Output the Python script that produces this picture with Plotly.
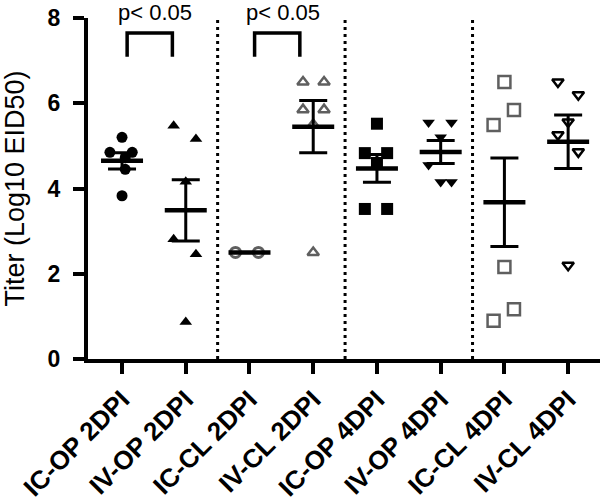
import numpy as np
import plotly.graph_objects as go

categories = ["IC-OP 2DPI", "IV-OP 2DPI", "IC-CL 2DPI", "IV-CL 2DPI",
              "IC-OP 4DPI", "IV-OP 4DPI", "IC-CL 4DPI", "IV-CL 4DPI"]

ic_op_2dpi = [5.2, 4.85, 4.85, 4.72, 4.45, 3.83]
iv_op_2dpi = [5.47, 5.16, 4.16, 2.81, 2.46, 0.87]
ic_cl_2dpi = [2.5, 2.5]
iv_cl_2dpi = [6.5, 6.5, 5.85, 5.85, 5.5, 2.5]
ic_op_4dpi = [5.52, 4.83, 4.83, 4.6, 3.52, 3.52]
iv_op_4dpi = [5.55, 5.55, 5.2, 4.55, 4.15, 4.15]
ic_cl_4dpi = [6.5, 5.84, 5.49, 2.16, 1.17, 0.9]
iv_cl_4dpi = [6.5, 6.2, 5.56, 5.26, 4.86, 2.2]

# horizontal scatter offsets (category units) for each point
jit_ic_op_2dpi = [0.0, -0.19, 0.16, 0.05, 0.05, 0.0]
jit_iv_op_2dpi = [-0.19, 0.16, 0.0, -0.19, 0.16, 0.0]
jit_ic_cl_2dpi = [-0.22, 0.14]
jit_iv_cl_2dpi = [-0.16, 0.17, -0.16, 0.17, 0.0, 0.0]
jit_ic_op_4dpi = [0.0, -0.19, 0.16, 0.0, -0.19, 0.16]
jit_iv_op_4dpi = [-0.19, 0.17, 0.0, -0.19, 0.0, 0.17]
jit_ic_cl_4dpi = [0.0, 0.15, -0.17, 0.0, 0.15, -0.17]
jit_iv_cl_4dpi = [-0.16, 0.16, 0.0, -0.16, 0.16, 0.0]

p_labels = ["p< 0.05", "p< 0.05"]
p_pairs = [(0, 1), (2, 3)]

groups = [ic_op_2dpi, iv_op_2dpi, ic_cl_2dpi, iv_cl_2dpi,
          ic_op_4dpi, iv_op_4dpi, ic_cl_4dpi, iv_cl_4dpi]
jitters = [jit_ic_op_2dpi, jit_iv_op_2dpi, jit_ic_cl_2dpi, jit_iv_cl_2dpi,
           jit_ic_op_4dpi, jit_iv_op_4dpi, jit_ic_cl_4dpi, jit_iv_cl_4dpi]

Y_MAX = 8
GRAY = "#5f5f5f"
styles = [
    dict(symbol="circle", size=11, color="black", line=dict(width=0)),
    dict(symbol="triangle-up", size=11, color="black", line=dict(width=0)),
    dict(symbol="circle-open", size=10, color=GRAY, line=dict(width=3, color=GRAY)),
    dict(symbol="triangle-up-open", size=10, color=GRAY, line=dict(width=2.5, color=GRAY)),
    dict(symbol="square", size=12, color="black", line=dict(width=0)),
    dict(symbol="triangle-down", size=11, color="black", line=dict(width=0)),
    dict(symbol="square-open", size=12, color=GRAY, line=dict(width=2.5, color=GRAY)),
    dict(symbol="triangle-down-open", size=10, color="black", line=dict(width=2.5, color="black")),
]

FONT = "Arial, 'Liberation Sans', sans-serif"
fig = go.Figure()

for i, (vals, jit, st) in enumerate(zip(groups, jitters, styles)):
    fig.add_trace(go.Scatter(
        x=[i + j for j in jit], y=vals, mode="markers",
        marker=st, showlegend=False, cliponaxis=False, hoverinfo="y"))

means = [float(np.mean(g)) for g in groups]
sems = [float(np.std(g, ddof=1) / np.sqrt(len(g))) for g in groups]

fig.add_trace(go.Scatter(
    x=list(range(len(categories))), y=means, mode="markers",
    marker=dict(symbol="line-ew", size=30, color="black",
                line=dict(width=4.5, color="black")),
    error_y=dict(type="data", array=sems, visible=True, color="black",
                 thickness=3, width=14),
    showlegend=False, cliponaxis=False))

# significance brackets
for (a, b), lab in zip(p_pairs, p_labels):
    xa, xb = a + 0.08, b - 0.21
    fig.add_trace(go.Scatter(
        x=[xa, xa, xb, xb], y=[7.09, 7.65, 7.65, 7.09], mode="lines",
        line=dict(color="black", width=3.5), showlegend=False,
        cliponaxis=False, hoverinfo="skip"))
    fig.add_annotation(x=(a + b) / 2 + 0.02, y=8.13 / Y_MAX, xref="x", yref="paper",
                       text=lab, showarrow=False, yanchor="middle",
                       font=dict(family=FONT, size=22, color="black"))

# dotted separators between day/route blocks
for sep in [1.5, 3.5, 5.5]:
    fig.add_shape(type="line", x0=sep, x1=sep, y0=0, y1=Y_MAX, xref="x", yref="y",
                  line=dict(color="black", width=3, dash="3px,4px"))

fig.update_layout(
    width=600, height=503,
    margin=dict(l=88, r=0, t=18, b=144),
    plot_bgcolor="white", paper_bgcolor="white",
    font=dict(family=FONT, color="black"),
    xaxis=dict(
        range=[-0.534, 7.5], tickmode="array", automargin=False,
        tickvals=list(range(len(categories))), ticktext=categories,
        tickangle=-45, tickfont=dict(family=FONT, size=26, color="black", weight="bold"),
        showline=True, linecolor="black", linewidth=4,
        ticks="outside", ticklen=11, tickwidth=4, tickcolor="black",
        showgrid=False, zeroline=False),
    yaxis=dict(
        range=[0, Y_MAX], tickmode="array", tickvals=[0, 2, 4, 6, 8], automargin=False,
        tickfont=dict(family=FONT, size=23, color="black", weight="bold"),
        ticklabelstandoff=8,
        showline=True, linecolor="black", linewidth=4,
        ticks="outside", ticklen=11, tickwidth=4, tickcolor="black",
        showgrid=False, zeroline=False,
        title=dict(text="Titer (Log10 EID50)", standoff=24,
                   font=dict(family=FONT, size=27, color="black"))),
)

# remove the default page margin so the figure sits at the window's corner
fig.write_html("out.html", config={"displayModeBar": False},
               post_script="document.body.style.margin='0';document.body.style.overflow='hidden';")
